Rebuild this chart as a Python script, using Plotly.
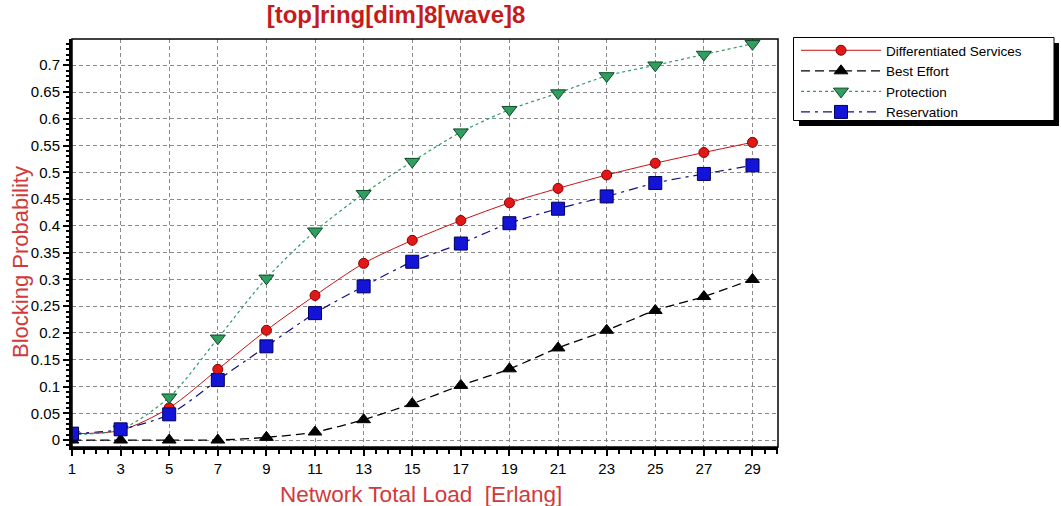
import plotly.graph_objects as go

load = [1, 3, 5, 7, 9, 11, 13, 15, 17, 19, 21, 23, 25, 27, 29]
diff_services = [0.012, 0.018, 0.060, 0.132, 0.205, 0.270, 0.330, 0.373, 0.410, 0.443, 0.470, 0.495, 0.517, 0.537, 0.556]
best_effort = [0.0, 0.0, 0.0, 0.0, 0.005, 0.015, 0.038, 0.068, 0.102, 0.133, 0.172, 0.205, 0.242, 0.268, 0.300]
protection = [0.010, 0.020, 0.080, 0.190, 0.302, 0.390, 0.460, 0.520, 0.575, 0.617, 0.648, 0.680, 0.700, 0.720, 0.740]
reservation = [0.012, 0.020, 0.048, 0.112, 0.175, 0.237, 0.287, 0.333, 0.367, 0.405, 0.432, 0.455, 0.480, 0.497, 0.513]
y_ticks = [0, 0.05, 0.1, 0.15, 0.2, 0.25, 0.3, 0.35, 0.4, 0.45, 0.5, 0.55, 0.6, 0.65, 0.7]
y_tick_text = ["0", "0.05", "0.1", "0.15", "0.2", "0.25", "0.3", "0.35", "0.4", "0.45", "0.5", "0.55", "0.6", "0.65", "0.7"]

W, H = 1061, 506
L, R, T, B = 72, 283, 39, 59
PW, PH = W - L - R, H - T - B

def px_x(p):
    return (p - L) / PW

def px_y(p):
    return (H - B - p) / PH

fig = go.Figure()
fig.add_trace(go.Scatter(
    x=load, y=diff_services, name="Differentiated Services", mode="lines+markers",
    line=dict(color="#c81010", width=1, shape="spline", smoothing=0.8),
    marker=dict(symbol="circle", size=10, color="#e01818", line=dict(color="#8a0000", width=1))))
fig.add_trace(go.Scatter(
    x=load, y=best_effort, name="Best Effort", mode="lines+markers",
    line=dict(color="#000000", width=1.3, dash="9px,5px", shape="spline", smoothing=0.8),
    marker=dict(symbol="triangle-up", size=12, color="#000000", line=dict(color="#000000", width=1))))
fig.add_trace(go.Scatter(
    x=load, y=protection, name="Protection", mode="lines+markers",
    line=dict(color="#2f9a66", width=1.2, dash="3px,3px", shape="spline", smoothing=0.8),
    marker=dict(symbol="triangle-down", size=13, color="#2f9e5e", line=dict(color="#0c4a26", width=1))))
fig.add_trace(go.Scatter(
    x=load, y=reservation, name="Reservation", mode="lines+markers",
    line=dict(color="#101080", width=1.2, dash="9px,5px,3px,5px", shape="spline", smoothing=0.8),
    marker=dict(symbol="square", size=13, color="#1414d8", line=dict(color="#00005a", width=1))))

fig.update_layout(
    width=W, height=H,
    margin=dict(l=L, r=R, t=T, b=B),
    paper_bgcolor="white", plot_bgcolor="white",
    font=dict(family="Liberation Sans, Arial, sans-serif", size=15, color="#000000"),
    title=dict(text="<b>[top]ring[dim]8[wave]8</b>", x=396 / W, xanchor="center",
               y=1 - 15 / H, yanchor="middle",
               font=dict(size=24, color="#c41c1c", family="Liberation Sans, Arial, sans-serif")),
    showlegend=True,
    legend=dict(x=px_x(796), y=px_y(35), xanchor="left", yanchor="top",
                bgcolor="rgba(0,0,0,0)", borderwidth=0,
                font=dict(size=13.5, color="#000000"), itemwidth=80,
                tracegroupgap=0),
)

fig.update_xaxes(
    range=[1, 30.05], tickmode="array", tickvals=load, ticktext=[str(v) for v in load],
    ticks="outside", ticklen=6, tickcolor="#000", tickwidth=1.5,
    showline=True, linecolor="#000", linewidth=3, mirror=False,
    showgrid=True, gridcolor="#8a8a8a", griddash="4px,3px", gridwidth=1,
    zeroline=False, tickfont=dict(size=15),
    minor=dict(dtick=0.5, tick0=1, ticks="outside", ticklen=4, tickcolor="#000", showgrid=False),
)
fig.update_yaxes(
    range=[-0.013, 0.749], tickmode="array", tickvals=y_ticks, ticktext=y_tick_text,
    ticks="outside", ticklen=6, tickcolor="#000", tickwidth=1.5,
    showline=True, linecolor="#000", linewidth=3, mirror=False,
    showgrid=True, gridcolor="#8a8a8a", griddash="4px,3px", gridwidth=1,
    zeroline=False, tickfont=dict(size=15),
    minor=dict(dtick=0.01, tick0=0, ticks="outside", ticklen=3, tickcolor="#000", showgrid=False),
)

# plot frame (thin top/right), legend shadow and legend box
fig.add_shape(type="rect", xref="paper", yref="paper", x0=0, x1=1, y0=0, y1=1,
              line=dict(color="#000", width=1.5), layer="above")
fig.add_shape(type="rect", xref="paper", yref="paper",
              x0=px_x(799), x1=px_x(1059), y0=px_y(126), y1=px_y(43),
              line=dict(width=0), fillcolor="#000000", layer="above")
fig.add_shape(type="rect", xref="paper", yref="paper",
              x0=px_x(793.5), x1=px_x(1054), y0=px_y(120.5), y1=px_y(37.5),
              line=dict(color="#000000", width=1), fillcolor="#ffffff", layer="above")

fig.add_annotation(text="Blocking Probability", xref="paper", yref="paper",
                   x=px_x(20), y=px_y(262), textangle=-90, showarrow=False,
                   xanchor="center", yanchor="middle",
                   font=dict(size=22, color="#d03a3a"))
fig.add_annotation(text="Network Total Load \u00a0[Erlang]", xref="paper", yref="paper",
                   x=px_x(421), y=px_y(494), showarrow=False,
                   xanchor="center", yanchor="middle",
                   font=dict(size=22.5, color="#d03a3a"))

fig.write_html("out.html")
